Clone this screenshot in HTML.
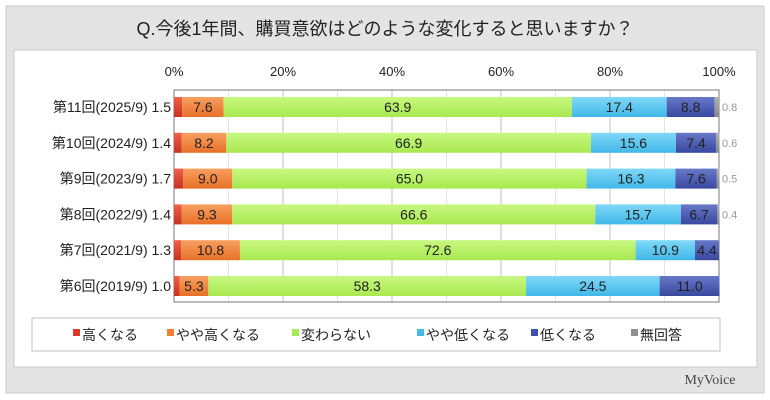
<!DOCTYPE html>
<html><head><meta charset="utf-8"><style>
body{margin:0;background:#fff;}
svg{display:block;font-family:"Liberation Sans","Noto Sans CJK JP",sans-serif;}
</style></head><body>
<svg width="770" height="400" xmlns="http://www.w3.org/2000/svg">
<defs>
<linearGradient id="r" x1="0" y1="0" x2="0" y2="1"><stop offset="0" stop-color="#f0604a"/><stop offset="1" stop-color="#c83020"/></linearGradient>
<linearGradient id="o" x1="0" y1="0" x2="0" y2="1"><stop offset="0" stop-color="#f8a060"/><stop offset="1" stop-color="#e87028"/></linearGradient>
<linearGradient id="g" x1="0" y1="0" x2="0" y2="1"><stop offset="0" stop-color="#c8f880"/><stop offset="1" stop-color="#a8e850"/></linearGradient>
<linearGradient id="b" x1="0" y1="0" x2="0" y2="1"><stop offset="0" stop-color="#80d8f8"/><stop offset="1" stop-color="#40b8e8"/></linearGradient>
<linearGradient id="d" x1="0" y1="0" x2="0" y2="1"><stop offset="0" stop-color="#6878c8"/><stop offset="1" stop-color="#3848a0"/></linearGradient>
<linearGradient id="n" x1="0" y1="0" x2="0" y2="1"><stop offset="0" stop-color="#b0b0b0"/><stop offset="1" stop-color="#888"/></linearGradient>
</defs>
<rect x="6" y="6" width="758" height="387" fill="#e4e4e4" stroke="#c8c8c8"/>
<text x="385" y="35" font-size="18" text-anchor="middle" fill="#222">Q.今後1年間、購買意欲はどのような変化すると思いますか？</text>
<rect x="14" y="50" width="743" height="317" fill="#fff" stroke="#c8c8c8"/>
<g font-size="13" fill="#222" text-anchor="middle">
<text x="174" y="76">0%</text><text x="283" y="76">20%</text><text x="392" y="76">40%</text><text x="501" y="76">60%</text><text x="610" y="76">80%</text><text x="719" y="76">100%</text>
</g>
<g stroke="#e4e4e4"><line x1="228.5" y1="90" x2="228.5" y2="302"/><line x1="337.5" y1="90" x2="337.5" y2="302"/><line x1="446.5" y1="90" x2="446.5" y2="302"/><line x1="555.5" y1="90" x2="555.5" y2="302"/><line x1="664.5" y1="90" x2="664.5" y2="302"/></g>
<g stroke="#c0c0c0"><line x1="283" y1="90" x2="283" y2="302"/><line x1="392" y1="90" x2="392" y2="302"/><line x1="501" y1="90" x2="501" y2="302"/><line x1="610" y1="90" x2="610" y2="302"/></g>
<rect x="174" y="90" width="545" height="212" fill="none" stroke="#777"/>
<g id="bars" font-size="14" fill="#222"></g>
<rect x="32" y="318" width="688" height="33" fill="#fff" stroke="#c0c0c0"/>
<g font-size="14" fill="#222">
<rect x="73" y="329" width="7" height="7" fill="#e03828"/><text x="82" y="340">高くなる</text>
<rect x="167" y="329" width="7" height="7" fill="#f08030"/><text x="176" y="340">やや高くなる</text>
<rect x="292" y="329" width="7" height="7" fill="#a8e850"/><text x="301" y="340">変わらない</text>
<rect x="417" y="329" width="7" height="7" fill="#40b8e8"/><text x="426" y="340">やや低くなる</text>
<rect x="531" y="329" width="7" height="7" fill="#4050b0"/><text x="540" y="340">低くなる</text>
<rect x="631" y="329" width="7" height="7" fill="#909090"/><text x="640" y="340">無回答</text>
</g>
<text x="710" y="384" font-size="14" fill="#444" text-anchor="middle" font-family="Liberation Serif,serif">MyVoice</text>
</svg>
<script>
var rows=[["第11回(2025/9)","1.5",[1.5,7.6,63.9,17.4,8.8,0.8]],["第10回(2024/9)","1.4",[1.4,8.2,66.9,15.6,7.4,0.6]],["第9回(2023/9)","1.7",[1.7,9.0,65.0,16.3,7.6,0.5]],["第8回(2022/9)","1.4",[1.4,9.3,66.6,15.7,6.7,0.4]],["第7回(2021/9)","1.3",[1.3,10.8,72.6,10.9,4.4,0]],["第6回(2019/9)","1.0",[1.0,5.3,58.3,24.5,11.0,0]]];
var f=["url(#r)","url(#o)","url(#g)","url(#b)","url(#d)","url(#n)"];
var s="";
rows.forEach(function(r,i){var cy=107+i*35.8,y=cy-10,x=174;
s+='<text x="171" y="'+(cy+5)+'" text-anchor="end">'+r[0]+' '+r[1]+'</text>';
r[2].forEach(function(v,j){var w=v*5.45;if(w>0){s+='<rect x="'+x+'" y="'+y+'" width="'+w+'" height="20" fill="'+f[j]+'"/>';
if(j>0&&j<5)s+='<text x="'+(x+w/2)+'" y="'+(cy+5)+'" text-anchor="middle">'+v.toFixed(1)+'</text>';}x+=w;});
if(r[2][5]>0)s+='<text x="722" y="'+(cy+4)+'" font-size="11" fill="#999">'+r[2][5]+'</text>';});
document.getElementById("bars").innerHTML=s;
</script>
</body></html>
